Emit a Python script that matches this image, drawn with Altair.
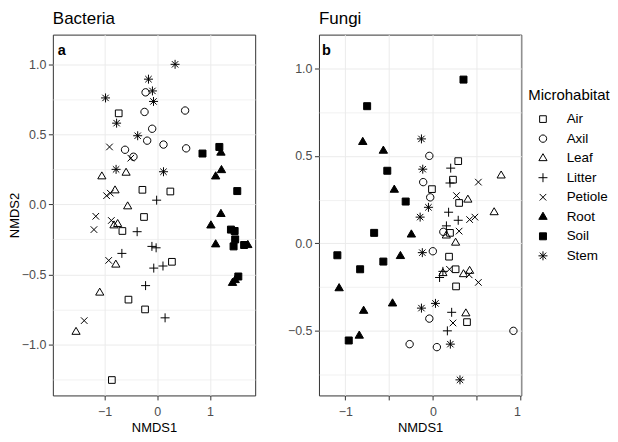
import altair as alt
import pandas as pd

CATS = ["Air", "Axil", "Leaf", "Litter", "Petiole", "Root", "Soil", "Stem"]

# ---- Bacteria (panel a) ----
bac_air_x = [-0.73, -0.28, 0.25, -0.25, -0.66, 0.28, -0.545, -0.23, -0.86]
bac_air_y = [0.65, 0.104, 0.092, -0.09, -0.19, -0.41, -0.68, -0.75, -1.254]
bac_axil_x = [-0.22, -0.24, 0.53, -0.095, -0.19, 0.12, 0.55, -0.61, -0.45]
bac_axil_y = [0.80, 0.66, 0.67, 0.54, 0.455, 0.427, 0.40, 0.39, 0.34]
bac_leaf_x = [-1.05, -0.59, -0.80, -0.56, -0.75, -0.82, -0.785, -1.09, -1.54]
bac_leaf_y = [0.20, 0.226, 0.10, -0.014, -0.14, -0.15, -0.43, -0.63, -0.91]
bac_litter_x = [-0.01, -0.38, -0.67, -0.10, -0.02, -0.065, 0.11, -0.22, 0.15]
bac_litter_y = [0.03, -0.195, -0.35, -0.30, -0.31, -0.455, -0.44, -0.58, -0.81]
bac_petiole_x = [-0.905, -0.50, -0.96, -0.89, -1.165, -1.20, -0.87, -0.92, -1.385]
bac_petiole_y = [0.41, 0.33, 0.062, 0.08, -0.085, -0.18, -0.115, -0.40, -0.83]
bac_root_x = [1.21, 1.22, 1.11, 1.21, 1.02, 1.11, 1.72, 1.43, 1.48]
bac_root_y = [0.37, 0.245, 0.20, -0.068, -0.15, -0.285, -0.29, -0.56, -0.54]
bac_soil_x = [0.86, 1.18, 1.52, 1.40, 1.47, 1.48, 1.45, 1.54, 1.65]
bac_soil_y = [0.363, 0.41, 0.095, -0.18, -0.19, -0.25, -0.30, -0.515, -0.29]
bac_stem_x = [0.34, -0.165, -0.09, -0.07, -0.98, -0.77, -0.37, -0.78, 0.12]
bac_stem_y = [1.0, 0.894, 0.81, 0.735, 0.76, 0.58, 0.49, 0.25, 0.233]

# ---- Fungi (panel b) ----
fun_air_x = [0.29, 0.23, -0.01, 0.30, 0.196, 0.185, 0.26, 0.265, 0.39]
fun_air_y = [0.47, 0.364, 0.31, 0.231, 0.06, -0.076, -0.148, -0.246, -0.45]
fun_axil_x = [-0.04, -0.11, -0.03, 0.12, 0.0, -0.04, -0.265, 0.046, 0.92]
fun_axil_y = [0.50, 0.35, 0.263, 0.066, -0.045, -0.43, -0.576, -0.593, -0.50]
fun_leaf_x = [0.78, 0.40, 0.70, 0.154, 0.26, 0.115, 0.35, 0.42, 0.377]
fun_leaf_y = [0.388, 0.25, 0.178, 0.045, 0.004, -0.17, -0.176, -0.157, -0.40]
fun_litter_x = [0.204, 0.196, 0.18, 0.29, 0.155, 0.115, 0.077, 0.215, 0.166]
fun_litter_y = [0.43, 0.345, 0.178, 0.132, 0.10, -0.16, -0.195, -0.394, -0.50]
fun_petiole_x = [0.52, 0.27, 0.48, 0.42, 0.30, 0.19, 0.415, 0.52, 0.23]
fun_petiole_y = [0.35, 0.273, 0.15, 0.136, 0.07, -0.148, -0.18, -0.223, -0.455]
fun_root_x = [-0.80, -0.565, -0.44, -0.245, -0.37, -1.07, -0.79, -0.46, -0.84]
fun_root_y = [0.58, 0.53, 0.307, 0.051, -0.072, -0.256, -0.385, -0.343, -0.527]
fun_soil_x = [0.35, -0.75, -0.52, -0.31, -0.67, -1.09, -0.565, -0.83, -0.96]
fun_soil_y = [0.936, 0.784, 0.415, 0.239, 0.06, -0.068, -0.104, -0.148, -0.555]
fun_stem_x = [-0.13, -0.115, -0.05, -0.145, -0.12, -0.13, 0.03, 0.20, 0.31]
fun_stem_y = [0.597, 0.424, 0.206, 0.15, -0.053, -0.37, -0.343, -0.576, -0.78]

# tick / grid positions
bac_x_grid = [-1, 0, 1]
bac_y_grid = [-1.25, -1.0, -0.75, -0.5, -0.25, 0.0, 0.25, 0.5, 0.75, 1.0]
fun_x_grid = [-1, -0.5, 0, 0.5, 1]
fun_y_grid = [-0.75, -0.5, -0.25, 0.0, 0.25, 0.5, 0.75, 1.0]


def build(groups):
    rows = []
    for cat, xs, ys in groups:
        for a, b in zip(xs, ys):
            rows.append({"Microhabitat": cat, "NMDS1": a, "NMDS2": b})
    return pd.DataFrame(rows)


bac = build([
    ("Air", bac_air_x, bac_air_y), ("Axil", bac_axil_x, bac_axil_y),
    ("Leaf", bac_leaf_x, bac_leaf_y), ("Litter", bac_litter_x, bac_litter_y),
    ("Petiole", bac_petiole_x, bac_petiole_y), ("Root", bac_root_x, bac_root_y),
    ("Soil", bac_soil_x, bac_soil_y), ("Stem", bac_stem_x, bac_stem_y),
])
fun = build([
    ("Air", fun_air_x, fun_air_y), ("Axil", fun_axil_x, fun_axil_y),
    ("Leaf", fun_leaf_x, fun_leaf_y), ("Litter", fun_litter_x, fun_litter_y),
    ("Petiole", fun_petiole_x, fun_petiole_y), ("Root", fun_root_x, fun_root_y),
    ("Soil", fun_soil_x, fun_soil_y), ("Stem", fun_stem_x, fun_stem_y),
])

SHAPES = [
    "M-0.67,-0.67L0.67,-0.67L0.67,0.67L-0.67,0.67Z",                      # Air: open square
    "M-0.74,0A0.74,0.74,0,1,0,0.74,0A0.74,0.74,0,1,0,-0.74,0Z",             # Axil: open circle
    "M0,-0.9L0.82,0.5L-0.82,0.5Z",                                          # Leaf: open triangle
    "M-0.9,0L0.9,0M0,-0.9L0,0.9",                                           # Litter: plus
    "M-0.66,-0.66L0.66,0.66M-0.66,0.66L0.66,-0.66",                         # Petiole: x
    "M0,-0.92L0.84,0.52L-0.84,0.52Z",                                       # Root: filled triangle
    "M-0.7,-0.7L0.7,-0.7L0.7,0.7L-0.7,0.7Z",                                # Soil: filled square
    "M-0.9,0L0.9,0M0,-0.9L0,0.9M-0.64,-0.64L0.64,0.64M-0.64,0.64L0.64,-0.64",  # Stem: asterisk
]
FILLS = ["transparent", "transparent", "transparent", "transparent",
         "transparent", "black", "black", "transparent"]
STROKES = ["black"] * 8

MINUS_LABEL_Y = "abs(datum.value*2 - round(datum.value*2)) > 0.01 ? '' : replace(format(datum.value, '.1f'), '-', '\u2212')"
MINUS_LABEL_X = "abs(datum.value - round(datum.value)) > 0.01 ? '' : replace(format(datum.value, 'd'), '-', '\u2212')"
TICK_Y = {"condition": {"test": "abs(datum.value*2 - round(datum.value*2)) > 0.01", "value": 0}, "value": 1}
GRID_Y = {"condition": {"test": "abs(datum.value*2 - round(datum.value*2)) > 0.01", "value": 0.7}, "value": 1}

legend = alt.Legend(
    title="Microhabitat", orient="none", legendX=477, legendY=54,
    titleFontSize=15, titleFontWeight="normal", titleColor="black", titlePadding=9,
    labelFontSize=13.5, labelColor="black", symbolSize=100, symbolStrokeColor="black",
    symbolStrokeWidth=1, symbolOffset=8, labelOffset=17, rowPadding=4.6, padding=0,
)


def panel(df, title, tag, tag_x, xdom, ydom, xvals, yvals, ytitle):
    yaxis_kwargs = dict(values=yvals, labelExpr=MINUS_LABEL_Y, tickOpacity=TICK_Y,
                        gridWidth=GRID_Y, labelPadding=2.5, tickSize=4.5)
    if ytitle:
        yaxis_kwargs.update(title=ytitle, titlePadding=3, minExtent=28, maxExtent=28)
    else:
        yaxis_kwargs.update(title=None)
    pts = alt.Chart(df).mark_point(
        filled=False, strokeWidth=1, opacity=1, size=100
    ).encode(
        x=alt.X("NMDS1:Q", scale=alt.Scale(domain=xdom, nice=False, zero=False),
                axis=alt.Axis(values=xvals, labelExpr=MINUS_LABEL_X, title="NMDS1",
                              labelPadding=6, tickSize=4.5, titlePadding=3,
                              minExtent=23, maxExtent=23)),
        y=alt.Y("NMDS2:Q", scale=alt.Scale(domain=ydom, nice=False, zero=False),
                axis=alt.Axis(**yaxis_kwargs)),
        shape=alt.Shape("Microhabitat:N", scale=alt.Scale(domain=CATS, range=SHAPES),
                        legend=legend),
        fill=alt.Fill("Microhabitat:N", scale=alt.Scale(domain=CATS, range=FILLS),
                      legend=legend),
        stroke=alt.Stroke("Microhabitat:N", scale=alt.Scale(domain=CATS, range=STROKES),
                          legend=legend),
    )
    lab = alt.Chart(pd.DataFrame({"t": [tag]})).mark_text(
        align="left", baseline="alphabetic", fontSize=14.5, fontWeight="bold", color="black"
    ).encode(text="t:N", x=alt.value(tag_x), y=alt.value(20.5))
    return alt.layer(pts, lab).properties(
        width=203, height=362,
        title=alt.TitleParams(title, anchor="start", frame="group", fontSize=17,
                              fontWeight="normal", color="black", offset=7),
    )


left = panel(bac, "Bacteria", "a", 5, [-1.98, 1.86], [-1.364, 1.212], bac_x_grid, bac_y_grid, "NMDS2")
right = panel(fun, "Fungi", "b", 3, [-1.30, 1.01], [-0.869, 1.193], fun_x_grid, fun_y_grid, None)

chart = alt.hconcat(left, right, spacing=30).resolve_scale(
    shape="shared", fill="shared", stroke="shared"
).properties(
    padding={"left": 0, "top": 0, "right": 0, "bottom": 0}
).configure(
    font="Liberation Sans",
).configure_view(
    stroke="#333333", strokeWidth=1
).configure_axis(
    domain=False, labelColor="#4D4D4D", labelFontSize=12.5, tickColor="#333333",
    tickWidth=1, gridColor="#EBEBEB", titleFontSize=13, titleFontWeight="normal",
    titleColor="black",
)

chart.save("out.html", embed_options={"renderer": "svg", "actions": False})
